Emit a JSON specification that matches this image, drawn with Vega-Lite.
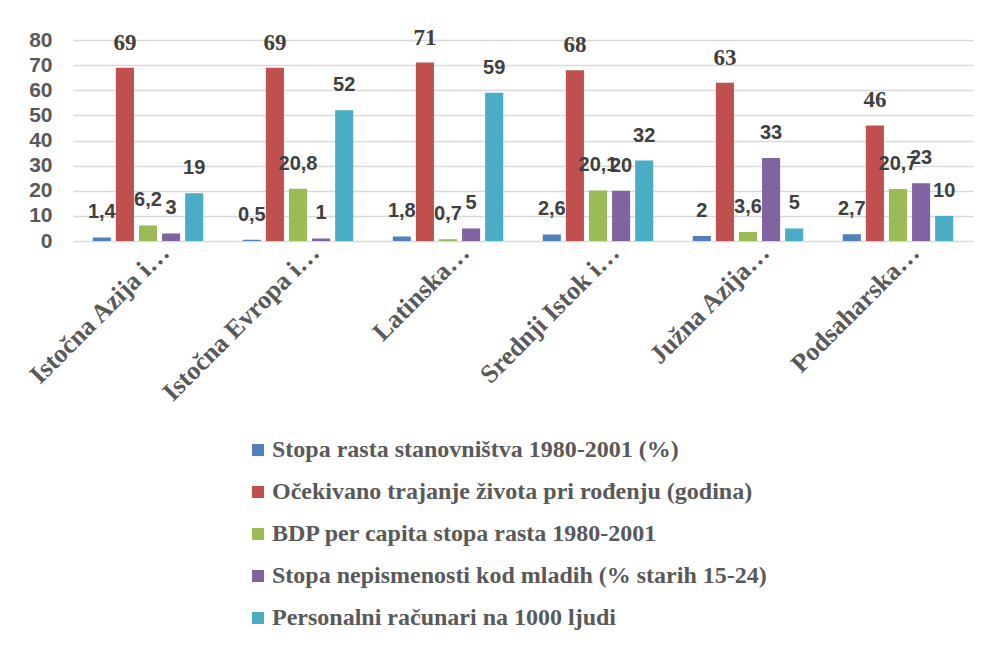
{
  "$schema": "https://vega.github.io/schema/vega-lite/v6.json",
  "width": 900,
  "height": 201,
  "autosize": {"type": "none"},
  "padding": {"left": 73, "top": 40, "right": 18, "bottom": 405},
  "background": "white",
  "config": {
    "locale": {"number": {"decimal": ",", "thousands": ".", "grouping": [3], "currency": ["", " €"]}},
    "view": {"stroke": null}
  },
  "data": {
    "values": [
      {"regija": "Istočna Azija i…", "pokazatelj": "Stopa rasta stanovništva 1980-2001 (%)", "vrijednost": 1.4},
      {"regija": "Istočna Azija i…", "pokazatelj": "Očekivano trajanje života pri rođenju (godina)", "vrijednost": 69},
      {"regija": "Istočna Azija i…", "pokazatelj": "BDP per capita stopa rasta 1980-2001", "vrijednost": 6.2},
      {"regija": "Istočna Azija i…", "pokazatelj": "Stopa nepismenosti kod mladih (% starih 15-24)", "vrijednost": 3},
      {"regija": "Istočna Azija i…", "pokazatelj": "Personalni računari na 1000 ljudi", "vrijednost": 19},
      {"regija": "Istočna Evropa i…", "pokazatelj": "Stopa rasta stanovništva 1980-2001 (%)", "vrijednost": 0.5},
      {"regija": "Istočna Evropa i…", "pokazatelj": "Očekivano trajanje života pri rođenju (godina)", "vrijednost": 69},
      {"regija": "Istočna Evropa i…", "pokazatelj": "BDP per capita stopa rasta 1980-2001", "vrijednost": 20.8},
      {"regija": "Istočna Evropa i…", "pokazatelj": "Stopa nepismenosti kod mladih (% starih 15-24)", "vrijednost": 1},
      {"regija": "Istočna Evropa i…", "pokazatelj": "Personalni računari na 1000 ljudi", "vrijednost": 52},
      {"regija": "Latinska…", "pokazatelj": "Stopa rasta stanovništva 1980-2001 (%)", "vrijednost": 1.8},
      {"regija": "Latinska…", "pokazatelj": "Očekivano trajanje života pri rođenju (godina)", "vrijednost": 71},
      {"regija": "Latinska…", "pokazatelj": "BDP per capita stopa rasta 1980-2001", "vrijednost": 0.7},
      {"regija": "Latinska…", "pokazatelj": "Stopa nepismenosti kod mladih (% starih 15-24)", "vrijednost": 5},
      {"regija": "Latinska…", "pokazatelj": "Personalni računari na 1000 ljudi", "vrijednost": 59},
      {"regija": "Srednji Istok i…", "pokazatelj": "Stopa rasta stanovništva 1980-2001 (%)", "vrijednost": 2.6},
      {"regija": "Srednji Istok i…", "pokazatelj": "Očekivano trajanje života pri rođenju (godina)", "vrijednost": 68},
      {"regija": "Srednji Istok i…", "pokazatelj": "BDP per capita stopa rasta 1980-2001", "vrijednost": 20.1},
      {"regija": "Srednji Istok i…", "pokazatelj": "Stopa nepismenosti kod mladih (% starih 15-24)", "vrijednost": 20},
      {"regija": "Srednji Istok i…", "pokazatelj": "Personalni računari na 1000 ljudi", "vrijednost": 32},
      {"regija": "Južna Azija…", "pokazatelj": "Stopa rasta stanovništva 1980-2001 (%)", "vrijednost": 2},
      {"regija": "Južna Azija…", "pokazatelj": "Očekivano trajanje života pri rođenju (godina)", "vrijednost": 63},
      {"regija": "Južna Azija…", "pokazatelj": "BDP per capita stopa rasta 1980-2001", "vrijednost": 3.6},
      {"regija": "Južna Azija…", "pokazatelj": "Stopa nepismenosti kod mladih (% starih 15-24)", "vrijednost": 33},
      {"regija": "Južna Azija…", "pokazatelj": "Personalni računari na 1000 ljudi", "vrijednost": 5},
      {"regija": "Podsaharska…", "pokazatelj": "Stopa rasta stanovništva 1980-2001 (%)", "vrijednost": 2.7},
      {"regija": "Podsaharska…", "pokazatelj": "Očekivano trajanje života pri rođenju (godina)", "vrijednost": 46},
      {"regija": "Podsaharska…", "pokazatelj": "BDP per capita stopa rasta 1980-2001", "vrijednost": 20.7},
      {"regija": "Podsaharska…", "pokazatelj": "Stopa nepismenosti kod mladih (% starih 15-24)", "vrijednost": 23},
      {"regija": "Podsaharska…", "pokazatelj": "Personalni računari na 1000 ljudi", "vrijednost": 10}
    ]
  },
  "encoding": {
    "x": {
      "field": "regija", "type": "nominal", "sort": null,
      "scale": {"paddingInner": 0.23, "paddingOuter": 0.115},
      "axis": {
        "title": null, "ticks": false, "domain": false,
        "labelAngle": -45, "labelAlign": "right", "labelBaseline": "top",
        "labelFont": "Liberation Serif", "labelFontWeight": "bold", "labelFontSize": 26,
        "labelColor": "#595959", "labelOffset": 8, "labelPadding": -2, "labelLimit": 400
      }
    },
    "xOffset": {
      "field": "pokazatelj", "type": "nominal",
      "sort": ["Stopa rasta stanovništva 1980-2001 (%)", "Očekivano trajanje života pri rođenju (godina)", "BDP per capita stopa rasta 1980-2001", "Stopa nepismenosti kod mladih (% starih 15-24)", "Personalni računari na 1000 ljudi"],
      "scale": {"paddingInner": 0.217, "paddingOuter": 0.109}
    },
    "y": {
      "field": "vrijednost", "type": "quantitative",
      "scale": {"domain": [0, 80], "nice": false},
      "axis": {
        "title": null, "values": [0, 10, 20, 30, 40, 50, 60, 70, 80],
        "ticks": false, "domain": false,
        "grid": true, "gridColor": "#d9d9d9", "gridWidth": 1.5,
        "labelFont": "Liberation Sans", "labelFontWeight": "bold", "labelFontSize": 21,
        "labelColor": "#595959", "labelPadding": 21
      }
    }
  },
  "layer": [
    {
      "mark": {"type": "bar"},
      "encoding": {
        "color": {
          "field": "pokazatelj", "type": "nominal",
          "scale": {
            "domain": ["Stopa rasta stanovništva 1980-2001 (%)", "Očekivano trajanje života pri rođenju (godina)", "BDP per capita stopa rasta 1980-2001", "Stopa nepismenosti kod mladih (% starih 15-24)", "Personalni računari na 1000 ljudi"],
            "range": ["#4F81BD", "#C0504D", "#9BBB59", "#8064A2", "#4BACC6"]
          },
          "legend": {
            "orient": "none", "legendX": 173, "legendY": 398, "direction": "vertical",
            "title": null, "symbolType": "square", "symbolSize": 144, "symbolStrokeWidth": 0,
            "labelFont": "Liberation Serif", "labelFontWeight": "bold", "labelFontSize": 24,
            "labelColor": "#595959", "rowPadding": 18, "labelLimit": 700, "labelOffset": 2
          }
        }
      }
    },
    {
      "transform": [{"filter": "datum.pokazatelj !== 'Očekivano trajanje života pri rođenju (godina)'"}],
      "mark": {"type": "text", "font": "Liberation Sans", "fontWeight": "bold", "fontSize": 20, "dy": -25, "baseline": "middle", "color": "#404040"},
      "encoding": {"text": {"field": "vrijednost", "type": "quantitative", "format": ".3~r"}}
    },
    {
      "transform": [{"filter": "datum.pokazatelj === 'Očekivano trajanje života pri rođenju (godina)'"}],
      "mark": {"type": "text", "font": "Liberation Serif", "fontWeight": "bold", "fontSize": 23, "dy": -25, "baseline": "middle", "color": "#404040"},
      "encoding": {"text": {"field": "vrijednost", "type": "quantitative", "format": ".3~r"}}
    }
  ]
}
